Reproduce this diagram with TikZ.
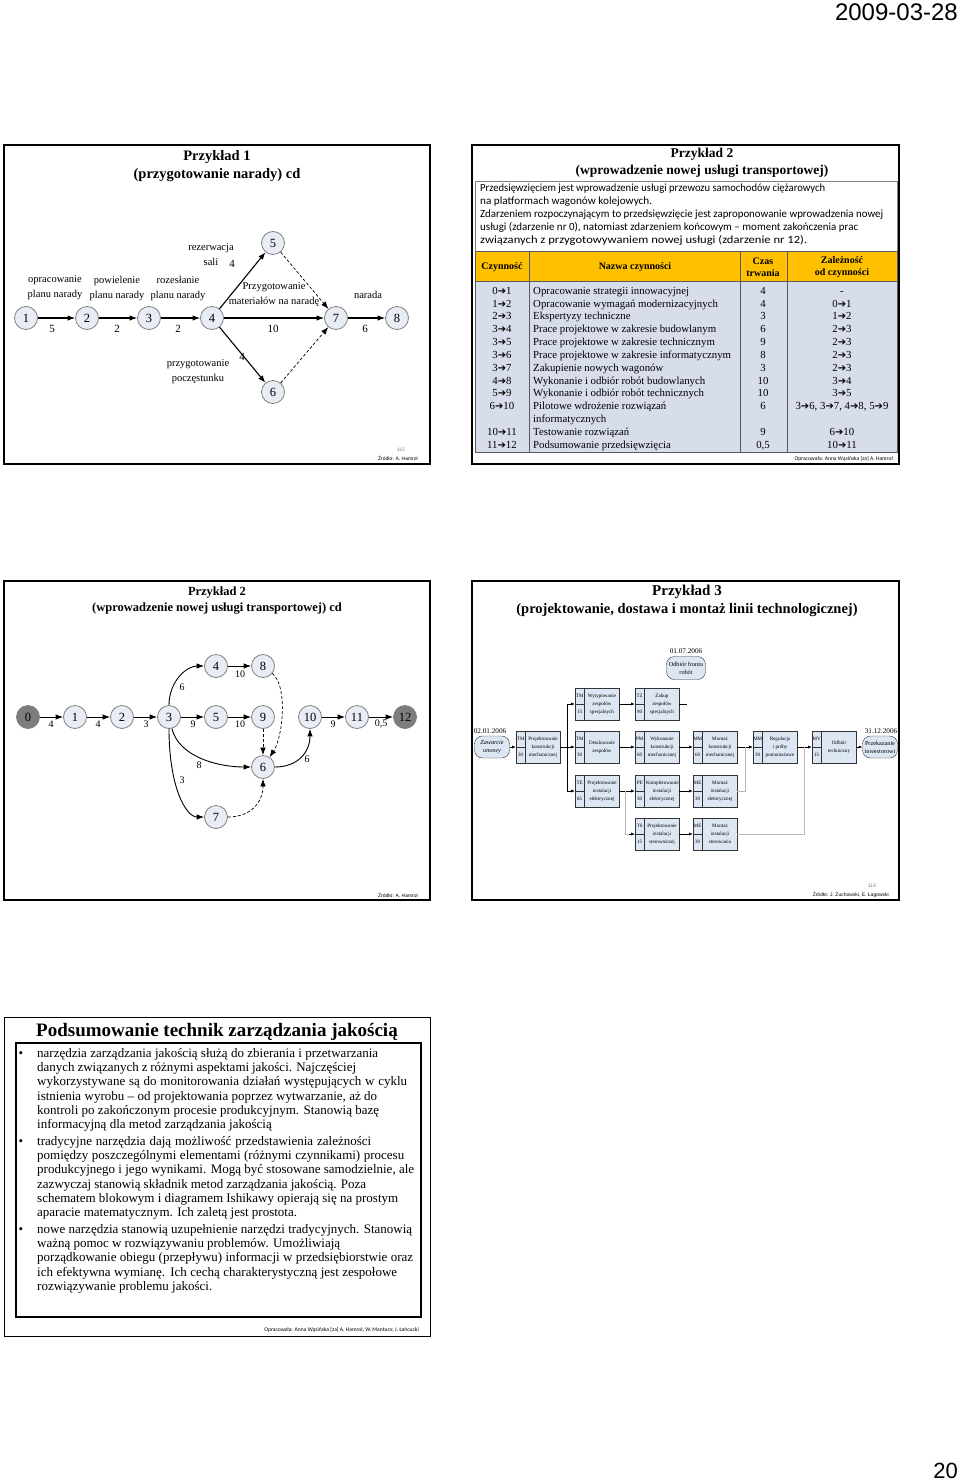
\documentclass[tikz,border=0pt]{standalone}
\usepackage{fontspec}
\usepackage{graphicx}
\setmainfont{Liberation Serif}
\newfontfamily\calibri{Carlito}
\newfontfamily\arial{Liberation Sans}
\newfontfamily\dejavu{DejaVu Sans}
\usetikzlibrary{arrows.meta, positioning, calc}

\definecolor{evfill}{RGB}{231,236,245}
\definecolor{evdark}{RGB}{125,125,125}
\definecolor{hdrorange}{RGB}{255,192,0}
\definecolor{rowblue}{RGB}{216,221,236}
\definecolor{boxblue}{RGB}{221,230,243}

\newcommand{\jline}[2]{\makebox[#1pt][s]{#2}}
\newcommand{\fitline}[2]{\resizebox{#1pt}{\height}{#2}}
\newcommand{\tarr}{{\dejavu\fontsize{10}{10}\selectfont ➔}}

% one row of the table in slide 2
\newcommand{\tabrow}[6]{%
  \node[cell] (#1a) at (502,#2) {#3};
  \node[cell, anchor=west] (#1n) at (533,#2) {#4};
  \node[cell] (#1t) at (763,#2) {#5};
  \node[cell] (#1d) at (842,#2) {#6};
}

% one activity box in slide 4
\newcommand{\taskbox}[6]{%
  \node[task] (#1) at (#2,#3) {};
  \draw[gray!40!black, line width=0.5pt] ($(#1.north west)+(10,0)$) -- ($(#1.south west)+(10,0)$);
  \draw[gray!40!black, line width=0.5pt] (#1.west) -- ($(#1.west)+(10,0)$);
  \node[taskcode] (#1c) at ($(#1.west)+(5,-8)$) {#4};
  \node[taskcode] (#1d) at ($(#1.west)+(5,8)$) {#5};
  \node[tasktxt] (#1t) at ($(#1.center)+(5,0)$) {#6};
}

\tikzset{
  slide/.style={draw=black, line width=1.5pt},
  heading/.style={font=\bfseries\fontsize{14.5}{17}\selectfont, inner sep=0pt},
  ev/.style={circle, draw=gray, line width=0.8pt, fill=evfill, minimum size=23pt, inner sep=0pt, font=\fontsize{12.5}{12.5}\selectfont},
  evend/.style={ev, fill=evdark},
  act/.style={draw=black, line width=1.1pt, -{Latex[length=7.5pt,width=5.5pt]}},
  dummy/.style={act, line width=0.7pt, densely dashed},
  lbl/.style={font=\fontsize{10.5}{15}\selectfont, align=center, inner sep=0pt},
  wt/.style={font=\fontsize{11}{11}\selectfont, inner sep=0pt},
  src/.style={font=\arial\fontsize{5}{5}\selectfont, anchor=east, inner sep=0pt},
  cell/.style={font=\fontsize{10.8}{13}\selectfont, inner sep=0pt, text height=7.5pt, text depth=2.5pt},
  hdr/.style={font=\bfseries\fontsize{10}{12.5}\selectfont, align=center, inner sep=0pt},
  desc/.style={font=\calibri\fontsize{11}{13}\selectfont, anchor=west, inner sep=0pt, text height=7.5pt, text depth=2.5pt},
  task/.style={draw=gray!40!black, fill=boxblue, line width=0.6pt, minimum width=44pt, minimum height=32pt, inner sep=0pt},
  taskcode/.style={font=\fontsize{5}{5}\selectfont, inner sep=0pt},
  tasktxt/.style={font=\fontsize{5.1}{8}\selectfont, align=center, text width=32pt, inner sep=0pt},
  milestone/.style={draw=gray!40!black, fill=boxblue, rounded corners=8pt, minimum width=35pt, minimum height=22pt, inner sep=0pt, font=\fontsize{6.2}{8}\selectfont, align=center},
  datelbl/.style={font=\fontsize{7.2}{8}\selectfont, inner sep=0pt},
  flow/.style={draw=black, line width=0.6pt, -{Latex[length=3.5pt,width=3pt]}},
  link/.style={draw=gray!55, line width=0.8pt},
  body/.style={font=\fontsize{13}{14}\selectfont, anchor=west, inner sep=0pt, text height=9pt, text depth=3pt},
}

\begin{document}
\begin{tikzpicture}[x=1pt, y=-1pt]
\useasboundingbox (0,0) rectangle (960,1483);
\fill[white] (0,0) rectangle (960,1483);

% date and page number
\node[font=\arial\fontsize{24}{24}\selectfont, anchor=east, inner sep=0pt] (date) at (958,12) {2009-03-28};
\node[font=\arial\fontsize{22}{22}\selectfont, anchor=east, inner sep=0pt] (pageno) at (958,1471) {20};

% slide 1
\draw[slide] (4,145) rectangle (430,464);
\node[heading] (s1t1) at (217,157) {Przykład 1};
\node[heading] (s1t2) at (217,175) {(przygotowanie narady) cd};
\node[ev] (a1) at (26,318) {1};
\node[ev] (a2) at (87,318) {2};
\node[ev] (a3) at (149,318) {3};
\node[ev] (a4) at (212,318) {4};
\node[ev] (a5) at (273,243) {5};
\node[ev] (a6) at (273,392) {6};
\node[ev] (a7) at (336,318) {7};
\node[ev] (a8) at (397,318) {8};
\draw[act] (a1) -- (a2);
\draw[act] (a2) -- (a3);
\draw[act] (a3) -- (a4);
\draw[act] (a4) -- (a5);
\draw[act] (a4) -- (a7);
\draw[act] (a4) -- (a6);
\draw[act] (a7) -- (a8);
\draw[dummy] (a5) -- (a7);
\draw[dummy] (a6) -- (a7);
\node[lbl] (l12) at (55,288) {opracowanie\\planu narady};
\node[lbl] (l23) at (117,288) {powielenie\\planu narady};
\node[lbl] (l34) at (178,288) {rozesłanie\\planu narady};
\node[lbl] (l45) at (211,255) {rezerwacja\\sali};
\node[lbl] (l47) at (274,295) {Przygotowanie\\materiałów na naradę};
\node[lbl] (l46) at (198,372) {przygotowanie\\poczęstunku};
\node[lbl] (l78) at (368,295) {narada};
\node[wt] (w12) at (52,329) {5};
\node[wt] (w23) at (117,329) {2};
\node[wt] (w34) at (178,329) {2};
\node[wt] (w45) at (232,264) {4};
\node[wt] (w47) at (273,329) {10};
\node[wt] (w46) at (242,357) {4};
\node[wt] (w78) at (365,329) {6};
\node[src, text=gray] (s1no) at (405,450) {115};
\node[src] (s1src) at (418,458) {Źródło: A. Hamrol};

% slide 2
\draw[slide] (472,145) rectangle (899,464);
\node[heading, font=\bfseries\fontsize{13.5}{16}\selectfont] (s2t1) at (702,154) {Przykład 2};
\node[heading, font=\bfseries\fontsize{13.5}{16}\selectfont] (s2t2) at (702,171) {(wprowadzenie nowej usługi transportowej)};
\draw[gray, line width=0.8pt] (475,181) rectangle (897,251);
\node[desc] (x1) at (480,188.5) {\fitline{345}{Przedsięwzięciem jest wprowadzenie usługi przewozu samochodów ciężarowych}};
\node[desc] (x2) at (480,201.5) {\fitline{172}{na platformach wagonów kolejowych.}};
\node[desc] (x3) at (480,215) {\fitline{403}{Zdarzeniem rozpoczynającym to przedsięwzięcie jest zaproponowanie wprowadzenia nowej}};
\node[desc] (x4) at (480,228) {\fitline{378}{usługi (zdarzenie nr 0), natomiast zdarzeniem końcowym – moment zakończenia prac}};
\node[desc] (x5) at (480,241) {\fitline{327}{związanych z przygotowywaniem nowej usługi (zdarzenie nr 12).}};
\fill[hdrorange] (475,251) rectangle (897,281);
\fill[rowblue] (475,281) rectangle (897,452);
\draw[gray!70!black, line width=0.6pt] (475,251) rectangle (897,452);
\draw[gray!70!black, line width=0.6pt] (475,281) -- (897,281);
\draw[gray!70!black, line width=0.6pt] (529,251) -- (529,452);
\draw[gray!70!black, line width=0.6pt] (740,251) -- (740,452);
\draw[gray!70!black, line width=0.6pt] (787,251) -- (787,452);
\node[hdr] (h1) at (502,267) {Czynność};
\node[hdr] (h2) at (635,267) {Nazwa czynności};
\node[hdr] (h3) at (763,267) {Czas\\trwania};
\node[hdr] (h4) at (842,267) {Zależność\\od czynności};
\tabrow{r1}{291.7}{0\tarr1}{Opracowanie strategii innowacyjnej}{4}{-}
\tabrow{r2}{304.5}{1\tarr2}{Opracowanie wymagań modernizacyjnych}{4}{0\tarr1}
\tabrow{r3}{317.4}{2\tarr3}{Ekspertyzy techniczne}{3}{1\tarr2}
\tabrow{r4}{330.2}{3\tarr4}{Prace projektowe w zakresie budowlanym}{6}{2\tarr3}
\tabrow{r5}{343.0}{3\tarr5}{Prace projektowe w zakresie technicznym}{9}{2\tarr3}
\tabrow{r6}{355.9}{3\tarr6}{Prace projektowe w zakresie informatycznym}{8}{2\tarr3}
\tabrow{r7}{368.7}{3\tarr7}{Zakupienie nowych wagonów}{3}{2\tarr3}
\tabrow{r8}{381.5}{4\tarr8}{Wykonanie i odbiór robót budowlanych}{10}{3\tarr4}
\tabrow{r9}{394.3}{5\tarr9}{Wykonanie i odbiór robót technicznych}{10}{3\tarr5}
\tabrow{r10}{407.2}{6\tarr10}{Pilotowe wdrożenie rozwiązań}{6}{3\tarr6, 3\tarr7, 4\tarr8, 5\tarr9}
\node[cell, anchor=west] (r10x) at (533,420) {informatycznych};
\tabrow{r11}{432.8}{10\tarr11}{Testowanie rozwiązań}{9}{6\tarr10}
\tabrow{r12}{445.7}{11\tarr12}{Podsumowanie przedsięwzięcia}{0,5}{10\tarr11}
\node[src, font=\calibri\fontsize{5.6}{6}\selectfont] (s2src) at (893,459) {Opracowała: Anna Wąsińska [za] A. Hamrol};

% slide 3
\draw[slide] (4,581) rectangle (430,900);
\node[heading, font=\bfseries\fontsize{12.5}{15}\selectfont] (s3t1) at (217,593) {Przykład 2};
\node[heading, font=\bfseries\fontsize{12.5}{15}\selectfont] (s3t2) at (217,609) {(wprowadzenie nowej usługi transportowej) cd};
\node[evend] (b0) at (28,717) {0};
\node[ev] (b1) at (75,717) {1};
\node[ev] (b2) at (122,717) {2};
\node[ev] (b3) at (169,717) {3};
\node[ev] (b5) at (216,717) {5};
\node[ev] (b9) at (263,717) {9};
\node[ev] (b10) at (310,717) {10};
\node[ev] (b11) at (357,717) {11};
\node[evend] (b12) at (405,717) {12};
\node[ev] (b4) at (216,666) {4};
\node[ev] (b8) at (263,666) {8};
\node[ev] (b6) at (263,767) {6};
\node[ev] (b7) at (216,817) {7};
\draw[act, line width=0.9pt] (b0) -- (b1);
\draw[act, line width=0.9pt] (b1) -- (b2);
\draw[act, line width=0.9pt] (b2) -- (b3);
\draw[act, line width=0.9pt] (b3) -- (b5);
\draw[act, line width=0.9pt] (b5) -- (b9);
\draw[act, line width=0.9pt] (b4) -- (b8);
\draw[act, line width=0.9pt] (b10) -- (b11);
\draw[act, line width=0.9pt] (b11) -- (b12);
\draw[act, line width=0.9pt] (b3) .. controls +(0,-35) and +(-30,0) .. (b4);
\draw[act, line width=0.9pt] (b3) .. controls +(10,40) and +(-45,0) .. (b6);
\draw[act, line width=0.9pt] (b3) .. controls +(0,70) and +(-30,0) .. (b7);
\draw[act, line width=0.9pt] (b6) .. controls +(35,0) and +(0,35) .. (b10);
\draw[dummy] (b9) -- (b6);
\draw[dummy] (b8) .. controls +(25,20) and +(20,-30) .. (b6);
\draw[dummy] (b7) .. controls +(35,0) and +(0,35) .. (b6);
\node[wt, font=\fontsize{10}{10}\selectfont] (v01) at (51,724) {4};
\node[wt, font=\fontsize{10}{10}\selectfont] (v12) at (98,724) {4};
\node[wt, font=\fontsize{10}{10}\selectfont] (v23) at (146,724) {3};
\node[wt, font=\fontsize{10}{10}\selectfont] (v35) at (193,724) {9};
\node[wt, font=\fontsize{10}{10}\selectfont] (v59) at (240,724) {10};
\node[wt, font=\fontsize{10}{10}\selectfont] (v48) at (240,674) {10};
\node[wt, font=\fontsize{10}{10}\selectfont] (v1011) at (333,724) {9};
\node[wt, font=\fontsize{10}{10}\selectfont] (v1112) at (381,724) {0,5};
\node[wt, font=\fontsize{10}{10}\selectfont] (v34) at (182,687) {6};
\node[wt, font=\fontsize{10}{10}\selectfont] (v36) at (199,765) {8};
\node[wt, font=\fontsize{10}{10}\selectfont] (v37) at (182,780) {3};
\node[wt, font=\fontsize{10}{10}\selectfont] (v610) at (307,759) {6};
\node[src] (s3src) at (418,895) {Źródło: A. Hamrol};

% slide 4
\draw[slide] (472,581) rectangle (899,900);
\node[heading, font=\bfseries\fontsize{15}{17}\selectfont] (s4t1) at (687,592) {Przykład 3};
\node[heading, font=\bfseries\fontsize{14.5}{17}\selectfont] (s4t2) at (687,610) {(projektowanie, dostawa i montaż linii technologicznej)};
\node[milestone, font=\itshape\fontsize{6.2}{8}\selectfont] (ms1) at (492,747) {Zawarcie\\umowy};
\node[datelbl] (d1) at (490,731) {02.01.2006};
\node[milestone] (ms2) at (880,747) {Przekazanie\\inwestorowi};
\node[datelbl] (d2) at (881,731) {31.12.2006};
\node[milestone, minimum width=39pt, minimum height=23pt] (ms3) at (686,668) {Odbiór frontu\\robót};
\node[datelbl] (d3) at (686,651) {01.07.2006};
\taskbox{tk1}{538}{747}{TM}{30}{Projektowanie konstrukcji mechanicznej}
\taskbox{tk2a}{597}{704}{TM}{15}{Wytypowanie zespołów specjalnych}
\taskbox{tk2b}{597}{747}{TM}{30}{Detalowanie zespołów}
\taskbox{tk2c}{597}{791}{TE}{85}{Projektowanie instalacji elektrycznej}
\taskbox{tk3a}{657}{704}{TZ}{90}{Zakup zespołów specjalnych}
\taskbox{tk3b}{657}{747}{PM}{60}{Wykonanie konstrukcji mechanicznej}
\taskbox{tk3c}{657}{791}{PE}{30}{Kompletowanie instalacji elektrycznej}
\taskbox{tk3d}{657}{834}{TS}{15}{Projektowanie instalacji sterowniczej}
\taskbox{tk4b}{715}{747}{MM}{60}{Montaż konstrukcji mechanicznej}
\taskbox{tk4c}{715}{791}{ME}{30}{Montaż instalacji elektrycznej}
\taskbox{tk4d}{715}{834}{ME}{30}{Montaż instalacji sterowania}
\taskbox{tk5b}{775}{747}{MM}{30}{Regulacja i próby pomontażowe}
\taskbox{tk6b}{834}{747}{MV}{15}{Odbiór techniczny}
\coordinate (j1) at (567,747);
\coordinate (j2) at (625,791);
\coordinate (j3) at (745,747);
\coordinate (j4) at (804,747);
\coordinate (e3a) at (687,704);
\draw[flow] (ms1) -- (tk1);
\draw[line width=0.6pt] (tk1) -- (j1);
\draw[flow] (j1) |- (tk2a);
\draw[flow] (j1) -- (tk2b);
\draw[flow] (j1) |- (tk2c);
\draw[flow] (tk2a) -- (tk3a);
\draw[flow] (tk2b) -- (tk3b);
\draw[flow] (tk2c) -- (tk3c);
\draw[link] (j2) |- (tk3d.west);
\draw[flow] ($(tk3d.west)+(-6,0)$) -- (tk3d);
\draw[line width=0.6pt] (tk3a) -- (e3a);
\draw[flow] (tk3b) -- (tk4b);
\draw[flow] (tk3c) -- (tk4c);
\draw[flow] (tk3d) -- (tk4d);
\draw[flow] (tk4b) -- (tk5b);
\draw[link] (tk4c) -| (j3);
\draw[flow] (tk5b) -- (tk6b);
\draw[link] (tk4d) -| (j4);
\draw[flow] (tk6b) -- (ms2);
\node[src, text=gray] (s4no) at (876,886) {118};
\node[src] (s4src) at (889,895) {Źródło: J. Żuchowski, E. Łagowski};

% slide 5
\draw[slide, line width=1pt] (4,1017) rectangle (430,1336);
\node[heading, font=\bfseries\fontsize{19}{21}\selectfont] (s5t) at (217,1032) {Podsumowanie technik zarządzania jakością};
\draw[line width=1.6pt] (16,1043) rectangle (421,1317);
\node[body, anchor=center] (bu1) at (21,1054) {•};
\node[body, anchor=center] (bu2) at (21,1142) {•};
\node[body, anchor=center] (bu3) at (21,1230) {•};
\node[body] (p1a) at (37,1054) {\jline{341}{narzędzia zarządzania jakością służą do zbierania i przetwarzania}};
\node[body] (p1b) at (37,1068) {\jline{319}{danych związanych z różnymi aspektami jakości. Najczęściej}};
\node[body] (p1c) at (37,1082) {\jline{370}{wykorzystywane są do monitorowania  działań występujących w cyklu}};
\node[body] (p1d) at (37,1097) {\jline{340}{istnienia wyrobu – od projektowania poprzez wytwarzanie, aż do}};
\node[body] (p1e) at (37,1111) {\jline{342}{kontroli po zakończonym procesie produkcyjnym. Stanowią bazę}};
\node[body] (p1f) at (37,1125) {informacyjną dla metod zarządzania jakością};
\node[body] (p2a) at (37,1142) {\jline{334}{tradycyjne narzędzia  dają możliwość przedstawienia zależności}};
\node[body] (p2b) at (37,1156) {\jline{367}{pomiędzy poszczególnymi elementami (różnymi czynnikami) procesu}};
\node[body] (p2c) at (37,1170) {\jline{377}{produkcyjnego i jego wynikami. Mogą być stosowane samodzielnie, ale}};
\node[body] (p2d) at (37,1185) {\jline{329}{zazwyczaj stanowią składnik metod zarządzania jakością. Poza}};
\node[body] (p2e) at (37,1199) {\jline{361}{schematem blokowym i diagramem Ishikawy opierają się na prostym}};
\node[body] (p2f) at (37,1213) {aparacie matematycznym. Ich zaletą jest prostota.};
\node[body] (p3a) at (37,1230) {\jline{375}{nowe narzędzia stanowią uzupełnienie narzędzi tradycyjnych. Stanowią}};
\node[body] (p3b) at (37,1244) {\jline{303}{ważną pomoc w rozwiązywaniu problemów. Umożliwiają}};
\node[body] (p3c) at (37,1258) {\jline{376}{porządkowanie obiegu (przepływu) informacji w przedsiębiorstwie oraz}};
\node[body] (p3d) at (37,1273) {\jline{360}{ich efektywna wymianę. Ich cechą charakterystyczną jest  zespołowe}};
\node[body] (p3e) at (37,1287) {rozwiązywanie problemu jakości.};
\node[src, font=\calibri\fontsize{5.6}{6}\selectfont] (s5src) at (419,1330) {Opracowała: Anna Wąsińska [za] A. Hamrol, W. Mantura;  J. Łańcucki};

\end{tikzpicture}
\end{document}
